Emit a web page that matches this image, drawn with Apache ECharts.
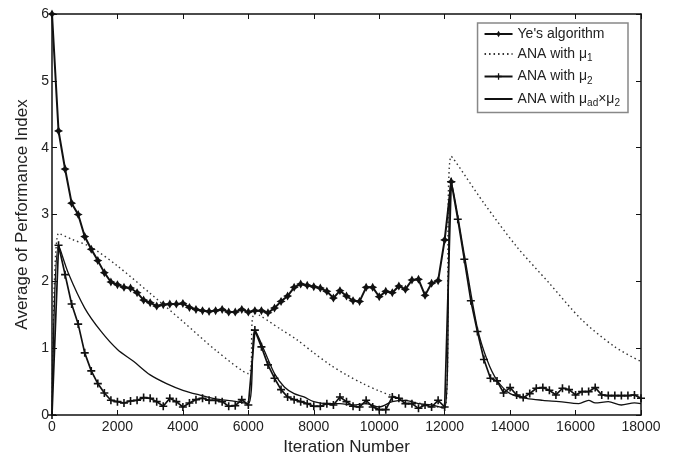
<!DOCTYPE html>
<html><head><meta charset="utf-8">
<script src="https://cdn.jsdelivr.net/npm/echarts@6/dist/echarts.min.js"></script>
<style>html,body{margin:0;padding:0;background:#fff}#c{width:675px;height:455px}</style>
</head><body><div id="c"></div>
<script>
// Tick labels
var xTicks = [0,2000,4000,6000,8000,10000,12000,14000,16000,18000];
var yTicks = [0,1,2,3,4,5,6];

// Ye's algorithm (every 200 iterations)
var yeX = [0,200,400,600,800,1000,1200,1400,1600,1800,2000,2200,2400,2600,2800,3000,3200,3400,3600,3800,4000,4200,4400,4600,4800,5000,5200,5400,5600,5800,6000,6200,6400,6600,6800,7000,7200,7400,7600,7800,8000,8200,8400,8600,8800,9000,9200,9400,9600,9800,10000,10200,10400,10600,10800,11000,11200,11400,11600,11800,12000,12200];
var yeY = [6.0,4.25,3.68,3.17,3.0,2.67,2.48,2.31,2.13,1.99,1.95,1.91,1.90,1.83,1.72,1.68,1.63,1.65,1.66,1.66,1.67,1.61,1.58,1.56,1.55,1.56,1.58,1.54,1.54,1.58,1.54,1.56,1.56,1.53,1.60,1.70,1.78,1.91,1.96,1.94,1.92,1.90,1.85,1.75,1.86,1.78,1.71,1.70,1.91,1.91,1.77,1.85,1.83,1.93,1.88,2.02,2.03,1.79,1.97,2.01,2.62,3.49];

// ANA with mu1 (dotted)
var mu1X = [0,200,600,1200,2000,3000,4000,5000,6000,6200,7000,7500,8000,8500,9000,9500,10000,10500,11000,11500,12000,12200,13200,14200,15200,16200,17200,18000];
var mu1Y = [0,2.72,2.63,2.51,2.23,1.82,1.40,0.97,0.62,1.52,1.28,1.12,0.93,0.75,0.60,0.47,0.36,0.27,0.20,0.15,0.10,3.87,3.17,2.52,1.97,1.42,1.02,0.80];

// ANA with mu2 (every 200 iterations)
var mu2Y = [0,2.54,2.10,1.66,1.36,0.93,0.66,0.47,0.33,0.22,0.20,0.18,0.21,0.22,0.26,0.25,0.20,0.13,0.25,0.20,0.12,0.18,0.23,0.25,0.22,0.22,0.20,0.13,0.14,0.23,0.15,
            1.27,1.02,0.75,0.55,0.38,0.27,0.23,0.20,0.17,0.13,0.13,0.17,0.15,0.27,0.20,0.13,0.12,0.22,0.12,0.08,0.08,0.27,0.25,0.17,0.17,0.10,0.15,0.12,0.22,0.12,
            3.49,2.93,2.33,1.71,1.25,0.83,0.55,0.51,0.33,0.41,0.30,0.26,0.32,0.40,0.41,0.37,0.30,0.40,0.38,0.30,0.35,0.35,0.41,0.30,0.29,0.29,0.29,0.29,0.30,0.25];
var mu2Step = 200;

// ANA with mu_ad x mu2 (solid)
var muadX = [0,200,500,1000,1500,2000,2500,3000,3500,4000,4500,5000,5500,6000,6200,6500,6800,7100,7400,7700,8000,8400,8800,9200,9600,10000,10400,10800,11200,11600,12000,12200,12600,13000,13300,13600,14000,14500,15000,15500,16100,16400,16600,17000,17400,17800,18000];
var muadY = [0,2.54,2.12,1.60,1.25,0.98,0.80,0.60,0.47,0.37,0.30,0.24,0.21,0.17,1.27,0.95,0.62,0.42,0.32,0.27,0.20,0.17,0.17,0.15,0.17,0.12,0.20,0.22,0.17,0.15,0.10,3.49,2.40,1.30,0.82,0.52,0.32,0.25,0.22,0.20,0.17,0.22,0.18,0.20,0.15,0.18,0.17];

var names = ["Ye's algorithm", "ANA with \u03bc1", "ANA with \u03bc2", "ANA with \u03bcad\u00d7\u03bc2"];

function pairs(xs, ys){ return ys.map(function(v,i){ return [xs[i], v]; }); }
var mu2X = mu2Y.map(function(_, i){ return i * mu2Step; });

var star = 'path://M5,0 L6.8,3.2 L10,5 L6.8,6.8 L5,10 L3.2,6.8 L0,5 L3.2,3.2Z';
var plus = 'path://M4,0H6V4H10V6H6V10H4V6H0V4H4Z';
var hiddenSym = {color:'rgba(255,255,255,0)', borderWidth:0};

var chart = echarts.init(document.getElementById('c'));
var txt = '#222';
var font = 'Liberation Sans, Arial';
var axisCommon = {
  axisLine:{show:true, onZero:false, lineStyle:{color:'#111', width:1.5}},
  axisTick:{inside:true, length:5, lineStyle:{color:'#111'}},
  splitLine:{show:false}
};
chart.setOption({
  animation:false,
  backgroundColor:'#fff',
  grid:{left:52, right:34, top:14, bottom:40, outerBoundsMode:'none', containLabel:false},
  legend:{
    right:47, top:23, orient:'vertical', itemGap:6, itemWidth:28, itemHeight:8,
    backgroundColor:'#fff', borderColor:'#888', borderWidth:1.5, borderRadius:0,
    padding:[4,8,4,6],
    data: [
      {name:names[0]},
      {name:names[1], itemStyle:hiddenSym},
      {name:names[2]},
      {name:names[3], itemStyle:hiddenSym}
    ],
    formatter:function(n){
      if(n===names[1]) return 'ANA with \u03bc{s|1}';
      if(n===names[2]) return 'ANA with \u03bc{s|2}';
      if(n===names[3]) return 'ANA with \u03bc{s|ad}\u00d7\u03bc{s|2}';
      return n;
    },
    textStyle:{fontFamily:font, fontSize:14, color:txt,
      rich:{s:{fontSize:10, color:txt, fontFamily:font, padding:[9,0,0,0]}}}
  },
  xAxis:[
    Object.assign({type:'value', min:0, max:18000, interval:2000, position:'bottom',
      name:'Iteration Number', nameLocation:'middle', nameGap:20,
      nameTextStyle:{fontFamily:font, fontSize:17, color:txt},
      axisLabel:{fontFamily:font, fontSize:14, color:txt, margin:5,
        customValues: xTicks, formatter:function(v){ return String(v); }}}, axisCommon),
    Object.assign({type:'value', min:0, max:18000, interval:2000, position:'top', axisLabel:{show:false}}, axisCommon)
  ],
  yAxis:[
    Object.assign({type:'value', min:0, max:6, interval:1, position:'left',
      name:'Average of Performance Index', nameLocation:'middle', nameGap:10,
      nameTextStyle:{fontFamily:font, fontSize:17, color:txt},
      axisLabel:{fontFamily:font, fontSize:14, color:txt, margin:3,
        customValues: yTicks, formatter:function(v){ return String(v); }}}, axisCommon),
    Object.assign({type:'value', min:0, max:6, interval:1, position:'right', axisLabel:{show:false}}, axisCommon)
  ],
  series:[
    {name:names[0], type:'line', data:pairs(yeX, yeY), symbol:star, symbolSize:9, showAllSymbol:true,
      lineStyle:{color:'#111', width:2}, itemStyle:{color:'#111'}, z:5},
    {name:names[1], type:'line', data:pairs(mu1X, mu1Y), symbol:'none', smooth:0.3,
      lineStyle:{color:'#333', width:1.4, type:[1.5,3]}, itemStyle:{color:'#333'}},
    {name:names[2], type:'line', data:pairs(mu2X, mu2Y), symbol:plus, symbolSize:8, showAllSymbol:true,
      lineStyle:{color:'#111', width:1.7}, itemStyle:{color:'#111'}, z:4},
    {name:names[3], type:'line', data:pairs(muadX, muadY), symbol:'none', smooth:0.3,
      lineStyle:{color:'#111', width:1.3}, itemStyle:{color:'#111'}, z:3}
  ]
});
</script></body></html>
